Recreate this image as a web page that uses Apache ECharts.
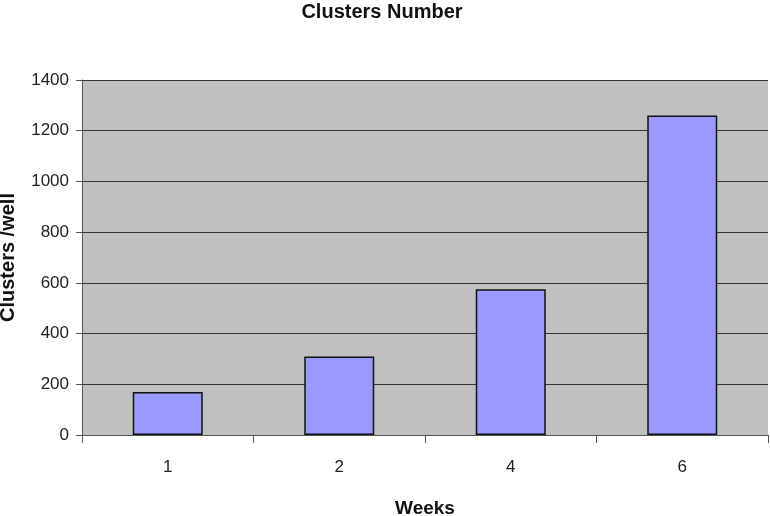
<!DOCTYPE html>
<html style="height: 100%">
<head>
  <meta charset="utf-8">
  <script src="https://cdn.jsdelivr.net/npm/echarts@6/dist/echarts.min.js"></script>
</head>
<body style="height: 100%; margin: 0; background: #fff">
  <div id="container" style="width: 770px; height: 516px"></div>
  <script>
    var weeks = ['1', '2', '4', '6'];
    var clusters = [170, 310, 575, 1260];

    var chart = echarts.init(document.getElementById('container'), null, { renderer: 'canvas' });
    var font = 'Liberation Sans, Arial, sans-serif';

    chart.setOption({
      animation: false,
      textStyle: { fontFamily: font },
      title: {
        text: 'Clusters Number',
        left: 377,
        textAlign: 'center',
        top: -3,
        textStyle: { fontSize: 20, fontWeight: 'bold', color: '#111', fontFamily: font }
      },
      grid: {
        left: 82,
        right: 2,
        top: 80,
        bottom: 81,
        outerBoundsMode: 'none',
        containLabel: false,
        show: true,
        backgroundColor: '#c0c0c0',
        borderWidth: 0
      },
      xAxis: {
        type: 'category',
        data: weeks,
        name: 'Weeks',
        nameLocation: 'middle',
        nameGap: 64,
        nameTextStyle: { fontSize: 19, fontWeight: 'bold', color: '#111' },
        axisLine: { lineStyle: { color: '#555', width: 1 } },
        axisTick: { show: true, length: 8, inside: false, lineStyle: { color: '#555' } },
        axisLabel: { fontSize: 17, color: '#222', margin: 24 }
      },
      yAxis: {
        type: 'value',
        min: 0,
        max: 1400,
        interval: 200,
        name: 'Clusters /well',
        nameLocation: 'middle',
        nameGap: 64,
        nameTextStyle: { fontSize: 20, fontWeight: 'bold', color: '#111' },
        axisLine: { show: true, lineStyle: { color: '#555', width: 1 } },
        axisTick: { show: true, length: 6, lineStyle: { color: '#555' } },
        axisLabel: {
          fontSize: 17, color: '#222', margin: 13,
          formatter: function (v) { return String(v); }
        },
        splitLine: { show: true, lineStyle: { color: '#333', width: 1 } }
      },
      series: [{
        type: 'bar',
        data: clusters,
        barWidth: 70,
        itemStyle: { color: '#9999ff', borderColor: '#111', borderWidth: 1.5 }
      }]
    });
  </script>
</body>
</html>
